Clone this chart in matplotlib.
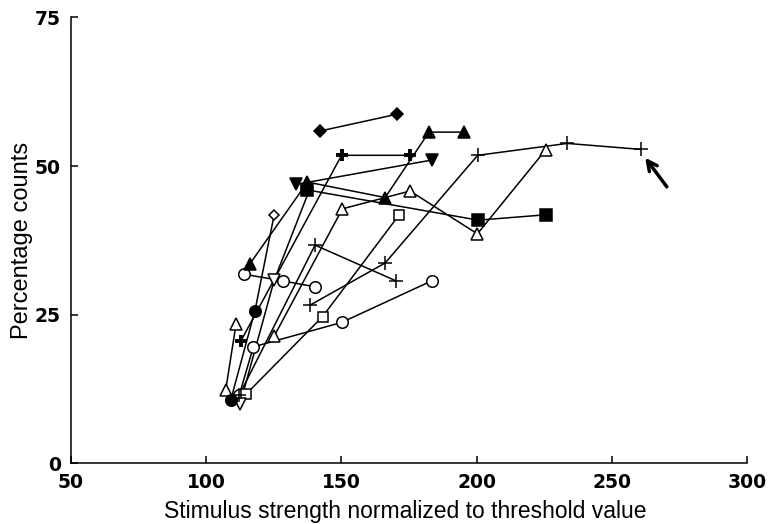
import matplotlib
matplotlib.use("Agg")
import matplotlib.pyplot as plt

# ---------------- data ----------------
x_ticks = [50, 100, 150, 200, 250, 300]
y_ticks = [0, 25, 50, 75]
x_label = "Stimulus strength normalized to threshold value"
y_label = "Percentage counts"

# filled diamond
s_fdiam_x = [142.3, 170.5]
s_fdiam_y = [55.9, 58.7]
# bold plus
s_bplus_x = [112.9, 150.1, 175.4]
s_bplus_y = [20.6, 51.8, 51.8]
# filled triangle up
s_ftri_x = [116.3, 137.5, 166.2, 182.4, 195.5]
s_ftri_y = [33.6, 47.3, 44.7, 55.7, 55.7]
# filled triangle down
s_fdown_x = [133.1, 183.4]
s_fdown_y = [46.9, 51.0]
# filled square
s_fsq_x = [137.2, 200.6, 225.5]
s_fsq_y = [46.0, 40.9, 41.8]
# open triangle down (last point joins the filled-square cluster)
s_odown_x = [112.6, 125.2, 138.5]
s_odown_y = [10.0, 30.8, 46.3]
# filled circle ending with open diamond
s_fcirc_x = [109.1, 118.1, 125.2]
s_fcirc_y = [10.6, 25.7, 41.8]
# open square
s_osq_x = [114.7, 143.1, 171.4]
s_osq_y = [11.6, 24.7, 41.8]
# open circle A
s_ocA_x = [112.3, 117.5, 150.1, 183.4]
s_ocA_y = [11.5, 19.6, 23.7, 30.7]
# open circle B
s_ocB_x = [114.2, 128.3, 140.3]
s_ocB_y = [31.8, 30.7, 29.7]
# open triangle X
s_otX_x = [107.3, 111.1]
s_otX_y = [12.4, 23.4]
# open triangle Y
s_otY_x = [125.2, 150.4, 175.4, 200.3, 225.5]
s_otY_y = [21.4, 42.8, 45.8, 38.6, 52.7]
# thin plus A
s_tpA_x = [138.4, 166.2, 200.4, 233.5, 260.6]
s_tpA_y = [26.6, 33.7, 51.8, 53.8, 52.8]
# thin plus B
s_tpB_x = [112.3, 140.3, 170.2]
s_tpB_y = [11.5, 36.7, 30.7]

# arrow pointing at the last thin-plus point
arrow_tail = (270.3, 46.5)
arrow_head = (262.3, 51.4)

# ---------------- figure ----------------
tick_family = ["DejaVu Sans"]
lab_family = ["Liberation Sans", "DejaVu Sans"]

fig = plt.figure(figsize=(7.7, 5.24), dpi=100)
ax = fig.add_axes([0.0918, 0.1155, 0.8786, 0.8515])

LW = 1.1
K = "black"

def line(xs, ys):
    ax.plot(xs, ys, color=K, lw=LW, zorder=2)

def marks(xs, ys, marker, ms, filled, mew=1.1):
    ax.plot(xs, ys, linestyle="none", marker=marker, ms=ms,
            mfc=K if filled else "white", mec=K, mew=mew, zorder=3)

# lines
for xs, ys in [(s_fdiam_x, s_fdiam_y), (s_bplus_x, s_bplus_y), (s_ftri_x, s_ftri_y),
               (s_fdown_x, s_fdown_y), (s_fsq_x, s_fsq_y), (s_odown_x, s_odown_y),
               (s_fcirc_x, s_fcirc_y), (s_osq_x, s_osq_y), (s_ocA_x, s_ocA_y),
               (s_ocB_x, s_ocB_y), (s_otX_x, s_otX_y), (s_otY_x, s_otY_y),
               (s_tpA_x, s_tpA_y), (s_tpB_x, s_tpB_y)]:
    line(xs, ys)

# markers
marks(s_otX_x, s_otX_y, "^", 9, False)
marks(s_otY_x, s_otY_y, "^", 9, False)
marks(s_ocA_x, s_ocA_y, "o", 8.3, False)
marks(s_ocB_x, s_ocB_y, "o", 8.3, False)
marks(s_osq_x, s_osq_y, "s", 7.8, False)
marks(s_odown_x[:2], s_odown_y[:2], "v", 8.5, False)
marks(s_fcirc_x[-1:], s_fcirc_y[-1:], "D", 5.4, False)
marks(s_tpA_x, s_tpA_y, "+", 9.5, False, mew=1.1)
marks(s_tpB_x, s_tpB_y, "+", 9.5, False, mew=1.1)
marks(s_fcirc_x[:2], s_fcirc_y[:2], "o", 8.3, True)
marks(s_fsq_x, s_fsq_y, "s", 8.3, True)
marks(s_ftri_x, s_ftri_y, "^", 9, True)
marks(s_fdown_x, s_fdown_y, "v", 9, True)
marks(s_fdiam_x, s_fdiam_y, "D", 6.3, True)
marks(s_bplus_x, s_bplus_y, "+", 9, True, mew=2.8)

ax.annotate("", xy=arrow_head, xytext=arrow_tail,
            arrowprops=dict(arrowstyle="->,head_length=0.7,head_width=0.35",
                            color=K, lw=2.5, shrinkA=0, shrinkB=0))

# axes styling
ax.set_xlim(50, 300)
ax.set_ylim(0, 75)
ax.set_xticks(x_ticks)
ax.set_yticks(y_ticks)
for s in ["top", "right"]:
    ax.spines[s].set_visible(False)
for s in ["left", "bottom"]:
    ax.spines[s].set_linewidth(1.1)
ax.tick_params(direction="in", length=5, width=1.1, pad=7)
for lab in ax.get_xticklabels() + ax.get_yticklabels():
    lab.set_fontfamily(tick_family)
    lab.set_fontweight("bold")
    lab.set_fontsize(13.5)

ax.set_xlabel(x_label, family=lab_family, fontsize=16.5)
ax.set_ylabel(y_label, family=lab_family, fontsize=17)
ax.xaxis.set_label_coords(0.495, -0.082)
ax.yaxis.set_label_coords(-0.055, 0.5)

fig.savefig("out.png", dpi=100)
